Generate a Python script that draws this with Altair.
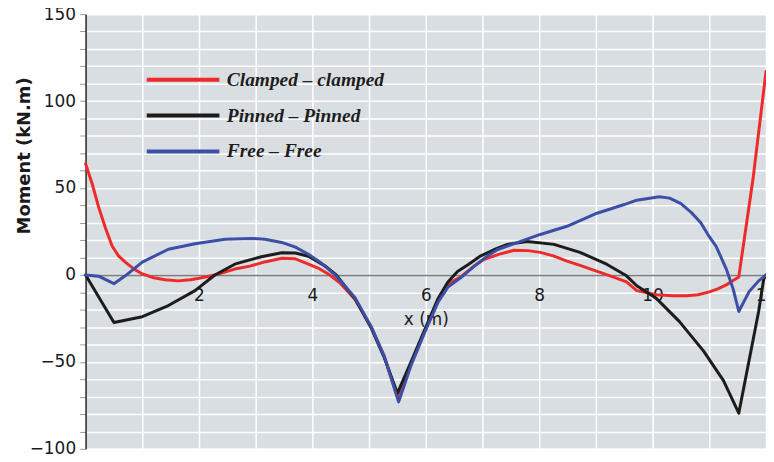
import altair as alt
import pandas as pd

series_names = ["Clamped – clamped", "Pinned – Pinned", "Free – Free"]
series_colors = ["#ee2a2a", "#1c1c1c", "#3c4fa6"]

clamped_x = [0, 0.12, 0.23, 0.35, 0.47, 0.58, 0.7, 0.85, 1.0, 1.2, 1.4, 1.63, 1.85, 2.0, 2.28, 2.63,
             2.9, 3.16, 3.46, 3.7, 3.93, 4.1, 4.28, 4.5, 4.75, 5.04, 5.27, 5.5, 5.74, 5.98, 6.21,
             6.4, 6.62, 6.85, 7.03, 7.3, 7.56, 7.8, 8.02, 8.25, 8.49, 8.72, 8.96, 9.25, 9.54, 9.72,
             10.07, 10.35, 10.6, 10.8, 11.0, 11.15, 11.3, 11.42, 11.52, 11.77, 12.0]
clamped_y = [64, 52, 39, 27, 16.5, 11, 7.4, 3.5, 0.6, -1.6, -2.8, -3.4, -2.8, -1.9, 0, 3.4,
             5.1, 7.5, 9.6, 9.3, 6.2, 4, 0.6, -5, -14, -30, -47, -70, -51, -32.6, -15.6,
             -5, -1, 5, 9, 12, 14.2, 14, 13, 11, 8, 5.5, 2.8, -0.5, -4, -9,
             -11.4, -11.9, -12, -11.4, -9.7, -8, -5.7, -3.2, -1.1, 55, 117]

pinned_x = [0, 0.5, 1.0, 1.46, 1.93, 2.28, 2.63, 2.88, 3.1, 3.46, 3.7, 3.93, 4.23, 4.42, 4.75,
            5.04, 5.27, 5.5, 5.74, 5.98, 6.21, 6.39, 6.56, 6.75, 6.97, 7.2, 7.44, 7.79, 8.26,
            8.72, 9.19, 9.54, 9.72, 10.07, 10.47, 10.9, 11.25, 11.52, 11.7, 11.87, 11.96, 12]
pinned_y = [0, -27.3, -24, -17.6, -9, 0, 6.2, 8.5, 10.5, 12.8, 12.6, 10.8, 5.1, 0, -13.6,
            -30.7, -47.7, -68, -50, -31.5, -14, -4, 2, 6, 11, 14.5, 17.6, 19.3, 17.6,
            13, 6.2, -0.5, -6.2, -13.6, -26.7, -43.8, -60.8, -79.5, -49.4, -21, -2.3, 0]

free_x = [0, 0.23, 0.5, 0.7, 1.0, 1.46, 1.93, 2.46, 2.93, 3.16, 3.46, 3.7, 3.93, 4.15, 4.4,
          4.75, 5.04, 5.27, 5.52, 5.74, 5.98, 6.21, 6.39, 6.62, 6.85, 7.09, 7.26, 7.56, 8.02,
          8.49, 9.02, 9.5, 9.72, 10.12, 10.3, 10.5, 10.68, 10.85, 11.0, 11.12, 11.3, 11.42,
          11.52, 11.7, 11.87, 12]
free_y = [0, -0.7, -5, -0.5, 7.4, 14.8, 18, 20.5, 21, 20.5, 18.7, 16, 11.9, 7, 0,
          -13, -30, -47, -73, -52, -33, -16, -7, -1.5, 5, 11, 14.5, 18, 23.3,
          28, 35.5, 40.5, 43, 45, 44.2, 41, 36, 30, 22, 16.5, 3.4, -8,
          -21, -9.7, -3.4, 0]

x_ticks = list(range(0, 13))
y_ticks = list(range(-100, 151, 10))

rows = []
for name, xs, ys in zip(series_names, [clamped_x, pinned_x, free_x], [clamped_y, pinned_y, free_y]):
    for i, (a, b) in enumerate(zip(xs, ys)):
        rows.append({"series": name, "x": a, "M": b, "idx": i})
df = pd.DataFrame(rows)

PLOT_H = 437

chart = alt.Chart(df).mark_line(strokeWidth=3, strokeJoin="round", strokeCap="round").encode(
    x=alt.X("x:Q", scale=alt.Scale(domain=[0, 12], nice=False, zero=False),
            axis=alt.Axis(title="x (m)", values=x_ticks,
                          labelExpr="datum.value % 2 === 0 && datum.value > 0 ? datum.label : ''",
                          offset=-PLOT_H * 100 / 250, grid=True, gridColor="white", gridWidth=1.5,
                          ticks=False, tickSize=0, domainColor="#7a7a7a", domainWidth=1.5,
                          labelPadding=13, titlePadding=8, labelFontSize=17, titleFontSize=17,
                          titleFontWeight="normal", labelFont="DejaVu Sans", titleFont="DejaVu Sans",
                          labelColor="#1a1a1a", titleColor="#1a1a1a", labelFlush=False,
                          labelOverlap=False)),
    y=alt.Y("M:Q", scale=alt.Scale(domain=[-100, 150], nice=False),
            axis=alt.Axis(title="Moment (kN.m)", values=y_ticks,
                          labelExpr="datum.value % 50 === 0 ? datum.label : ''",
                          tickSize=6, tickColor="#9a9a9a", domainColor="#222222", domainWidth=1.5,
                          grid=True, gridColor="white", gridWidth=1.5,
                          labelFontSize=17, labelFont="DejaVu Sans", labelColor="#1a1a1a",
                          titleFont="DejaVu Sans", titleFontSize=18, titleFontWeight="bold",
                          titleColor="#1a1a1a", titleX=-61, titleY=142, titleAngle=270,
                          titleAlign="center", titleBaseline="middle", labelPadding=4,
                          labelFlush=False, labelOverlap=False)),
    color=alt.Color("series:N", sort=series_names,
                    scale=alt.Scale(domain=series_names, range=series_colors),
                    legend=alt.Legend(title=None, orient="none", legendX=81, legendY=49,
                                      symbolType="M-2.5,0L2.5,0", symbolSize=853,
                                      symbolStrokeWidth=4, symbolFillColor="transparent",
                                      labelFont="Liberation Serif", labelFontSize=19.5,
                                      labelFontStyle="italic", labelFontWeight="bold",
                                      labelColor="#1e1e1e", labelOffset=27, rowPadding=9,
                                      padding=0, labelLimit=400, direction="vertical")),
    order="idx:Q",
).properties(
    width=684, height=PLOT_H,
    autosize=alt.AutoSizeParams(type="none"),
    padding={"left": 78, "top": 5, "right": 0, "bottom": 4},
).configure_view(stroke=None, fill="#d9dee2")

chart.save("out.html", embed_options={"renderer": "svg", "actions": False})
